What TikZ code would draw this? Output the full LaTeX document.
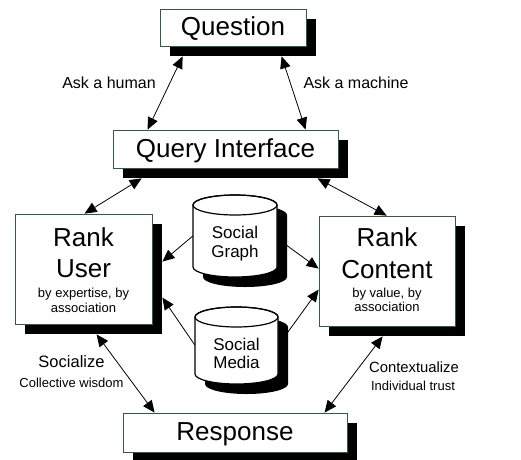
\documentclass[tikz,border=0pt]{standalone}
\usepackage{fontspec}
\setmainfont{Liberation Sans}
\usetikzlibrary{arrows.meta,shadows,calc}
\definecolor{boxedge}{HTML}{2E5E3E}
\tikzset{
  stage/.style={draw=boxedge, line width=0.8pt, fill=white, inner sep=0pt,
    drop shadow={shadow xshift=10pt, shadow yshift=-10pt, fill=black, opacity=1}},
  bigtxt/.style={anchor=base, inner sep=0pt, font=\fontsize{26}{30}\selectfont},
  smalltxt/.style={anchor=base, inner sep=0pt, font=\fontsize{13}{15}\selectfont},
  midtxt/.style={anchor=base, inner sep=0pt, font=\fontsize{17}{19}\selectfont},
  asktxt/.style={anchor=base, inner sep=0pt, font=\fontsize{16}{19}\selectfont},
  tip/.tip={Triangle[length=12pt,width=10.5pt]},
  link/.style={line width=0.8pt, tip-tip},
  feed/.style={line width=0.8pt, -tip},
}
% storage drum: centre x, top y, bottom y, x radius, y radius
\newcommand\tankshape[5]{%
  \fill[black] (#1-#4+10,#2+10) -- (#1-#4+10,#3+10)
    arc[start angle=180,end angle=0,x radius=#4,y radius=#5]
    -- (#1+#4+10,#2+10)
    arc[start angle=0,end angle=-180,x radius=#4,y radius=#5] -- cycle;
  \filldraw[fill=white,line width=1.2pt] (#1-#4,#2) -- (#1-#4,#3)
    arc[start angle=180,end angle=0,x radius=#4,y radius=#5]
    -- (#1+#4,#2)
    arc[start angle=0,end angle=-180,x radius=#4,y radius=#5] -- cycle;
  \draw[line width=1.2pt] (#1,#2) ellipse[x radius=#4,y radius=#5];
}
\begin{document}
\begin{tikzpicture}[x=1pt,y=-1pt]
\useasboundingbox[fill=white] (0,0) rectangle (521,459);

% boxes
\node[stage, minimum width=146pt, minimum height=37pt] (q) at (233,27.5) {};
\node[bigtxt] (qt) at (233,35.5) {Question};

\node[stage, minimum width=225pt, minimum height=38pt] (qi) at (225.5,149) {};
\node[bigtxt] (qit) at (225.5,157) {Query Interface};

\node[stage, minimum width=137pt, minimum height=110pt] (ru) at (83.5,269) {};
\node[bigtxt] (ru1) at (83.5,246) {Rank};
\node[bigtxt] (ru2) at (83.5,277) {User};
\node[smalltxt] (ru3) at (83.5,297) {by expertise, by};
\node[smalltxt] (ru4) at (83.5,312) {association};

\node[stage, minimum width=136pt, minimum height=110pt] (rc) at (387,271) {};
\node[bigtxt] (rc1) at (387,246) {Rank};
\node[bigtxt] (rc2) at (387,278) {Content};
\node[smalltxt] (rc3) at (387,297) {by value, by};
\node[smalltxt] (rc4) at (387,311.5) {association};

\node[stage, minimum width=224pt, minimum height=39pt] (rs) at (235,432.5) {};
\node[bigtxt] (rst) at (235,440) {Response};

% data stores
\tankshape{235}{205}{267}{42}{10}
\node[inner sep=0pt, minimum width=84pt, minimum height=82pt] (sg) at (235,236) {};
\node[midtxt] (sg1) at (235,238) {Social};
\node[midtxt] (sg2) at (235,257) {Graph};

\tankshape{236.5}{317}{374}{41.5}{10}
\node[inner sep=0pt, minimum width=83pt, minimum height=78pt] (sm) at (236.5,345) {};
\node[midtxt] (sm1) at (236.5,350) {Social};
\node[midtxt] (sm2) at (236.5,368) {Media};

% connectors
\draw[link] ($(q.south west)+(23,10)$) -- ($(qi.north west)+(35,0)$);
\draw[link] ($(q.south west)+(122,10)$) -- ($(qi.north west)+(193,0)$);
\draw[link] ($(qi.south west)+(29,10)$) -- ($(ru.north west)+(70,0)$);
\draw[link] ($(qi.south west)+(205,10)$) -- ($(rc.north west)+(68,0)$);
\draw[feed] (sg.west) -- ($(ru.north east)+(10,48)$);
\draw[feed] (sm.west) -- ($(ru.north east)+(10,84)$);
\draw[feed] ($(sg.east)+(9,9)$) -- ($(rc.north west)+(0,53)$);
\draw[feed] ($(sm.east)+(9,-12)$) -- ($(rc.north west)+(0,74)$);
\draw[link] ($(ru.south west)+(82,10)$) -- ($(rs.north west)+(32,0)$);
\draw[link] ($(rc.south west)+(64,10)$) -- ($(rs.north west)+(202,0)$);

% connector labels
\node[asktxt] (l1) at (109,88.5) {Ask a human};
\node[asktxt] (l2) at (356,88.5) {Ask a machine};
\node[font=\fontsize{16.5}{19}\selectfont, anchor=base, inner sep=0pt] (l3) at (71.5,367) {Socialize};
\node[smalltxt] (l4) at (71.5,387) {Collective wisdom};
\node[font=\fontsize{14.8}{18}\selectfont, anchor=base, inner sep=0pt] (l5) at (414,372) {Contextualize};
\node[smalltxt] (l6) at (413,390) {Individual trust};
\end{tikzpicture}
\end{document}
